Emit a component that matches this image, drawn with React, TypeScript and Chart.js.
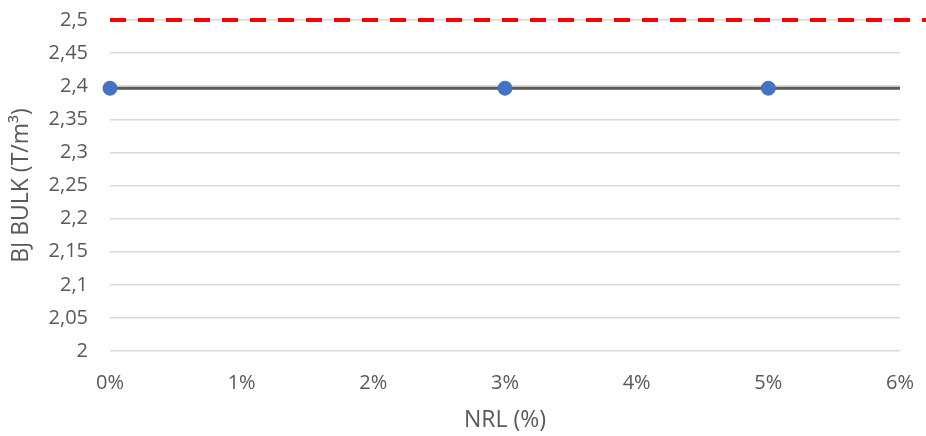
import React, { useEffect, useRef } from "react";
import { Chart, registerables } from "chart.js";
Chart.register(...registerables);

const nrlPercent = [0, 3, 5];
const bjBulk = [2.397, 2.397, 2.397];
const trendX = [0, 6];
const trendY = [2.397, 2.397];
const limitX = [0, 6.3];
const limitY = [2.5, 2.5];
const yMin = 2;
const yMax = 2.5;
const yStep = 0.05;
const xMin = 0;
const xMax = 6;

const FONT = "'Open Sans', 'Liberation Sans', sans-serif";
const TXT = "#595959";

export default function App() {
  const ref = useRef<HTMLCanvasElement | null>(null);
  useEffect(() => {
    document.body.style.margin = "0";
    const ctx = ref.current!.getContext("2d")!;
    const chart = new Chart(ctx, {
      type: "scatter",
      data: {
        datasets: [
          {
            label: "limit",
            data: limitX.map((x, i) => ({ x, y: limitY[i] })),
            showLine: true,
            borderColor: "#FF0000",
            borderWidth: 4,
            borderDash: [16, 12],
            pointRadius: 0,
            clip: false as any,
            order: 0,
          },
          {
            label: "trend",
            data: trendX.map((x, i) => ({ x, y: trendY[i] })),
            showLine: true,
            borderColor: "#595959",
            borderWidth: 3,
            pointRadius: 0,
            order: 2,
          },
          {
            label: "BJ",
            data: nrlPercent.map((x, i) => ({ x, y: bjBulk[i] })),
            showLine: false,
            backgroundColor: "#4472C4",
            borderColor: "#4472C4",
            pointRadius: 7,
            clip: false as any,
            order: 1,
          },
        ],
      },
      options: {
        animation: false,
        responsive: false,
        layout: { padding: { left: 0, right: 26, top: 20, bottom: 0 } },
        plugins: { legend: { display: false }, tooltip: { enabled: false } },
        scales: {
          x: {
            type: "linear",
            min: xMin,
            max: xMax,
            grid: { display: false, drawTicks: false },
            border: { display: false },
            ticks: {
              stepSize: 1,
              color: TXT,
              font: { family: FONT, size: 20 },
              padding: 20,
              callback: (v: any) => `${v}%`,
            },
            title: {
              display: true,
              text: "NRL (%)",
              color: TXT,
              font: { family: FONT, size: 23 },
              padding: { top: 0, bottom: 2 },
            },
            afterFit: (s: any) => {
              s.height = 85;
              s.paddingLeft = 0;
              s.paddingRight = 0;
            },
          },
          y: {
            type: "linear",
            min: yMin,
            max: yMax,
            grid: { color: "#d9d9d9", lineWidth: 1.5, drawTicks: false },
            border: { display: false },
            ticks: {
              stepSize: yStep,
              color: TXT,
              font: { family: FONT, size: 20 },
              padding: 22,
              callback: (v: any) => Number(Number(v).toFixed(2)).toString().replace(".", ","),
            },
            title: {
              display: true,
              text: "BJ BULK (T/m³)",
              color: TXT,
              font: { family: FONT, size: 23 },
              padding: { top: 8, bottom: 6 },
            },
            afterFit: (s: any) => {
              s.width = 110;
              s.paddingTop = 0;
              s.paddingBottom = 0;
            },
          },
        },
      },
    });
    return () => chart.destroy();
  }, []);
  return (
    <div style={{ width: 926, height: 436 }}>
      <canvas ref={ref} width={926} height={436} />
    </div>
  );
}
